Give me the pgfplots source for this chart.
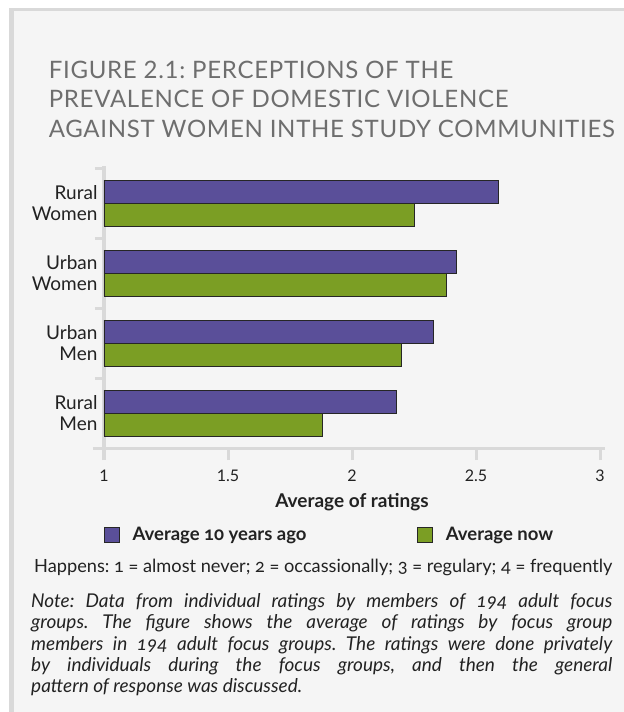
\documentclass[border=0pt]{standalone}
\usepackage{pgfplots}
\pgfplotsset{compat=1.18}
\usepackage{fontspec}
\setmainfont{Lato}[Numbers=OldStyle]
\newfontfamily\lin{Lato}[Numbers=Lining]
\newfontfamily\titlefont{Lato}[Numbers=Lining, LetterSpace=3]
\definecolor{barpurple}{HTML}{5A4F99}
\definecolor{bargreen}{HTML}{7B9E24}
\definecolor{axgray}{HTML}{D9D9D9}
\definecolor{panel}{HTML}{F5F5F5}
\definecolor{titlegray}{HTML}{6E6E6E}
\definecolor{txt}{HTML}{222222}
\frenchspacing
\begin{document}
\begin{tikzpicture}
\fill[white] (0,0) rectangle (624bp,-712bp);
\useasboundingbox (0,0) rectangle (624bp,-712bp);
\fill[axgray] (9bp,-8bp) rectangle (624bp,-712bp);
\fill[panel] (14bp,-11bp) rectangle (624bp,-712bp);
\begin{scope}[every node/.style={anchor=base west, inner sep=0pt, text=titlegray, font=\titlefont\fontsize{24bp}{29bp}\selectfont}]
\node at (48.6bp,-78bp) {FIGURE 2.1: PERCEPTIONS OF THE};
\node at (48.6bp,-107.5bp) {PREVALENCE OF DOMESTIC VIOLENCE};
\node at (48.6bp,-137bp) {AGAINST WOMEN INTHE STUDY COMMUNITIES};
\end{scope}
\begin{axis}[
  at={(104bp,-448bp)}, anchor=south west,
  scale only axis, width=496bp, height=280bp,
  xmin=1, xmax=3, ymin=-0.5, ymax=3.5,
  xbar, bar width=23bp,
  axis lines*=left,
  axis line style={axgray, line width=3bp},
  x axis line style={shorten <=-11bp, shorten >=-5bp},
  y axis line style={shorten >=-2bp},
  tick align=outside, major tick length=12bp, minor tick length=9bp,
  tick style={axgray, line width=3bp},
  xtick={1,1.5,2,2.5,3},
  ytick={0,1,2,3},
  yticklabels={{Rural\\Men},{Urban\\Men},{Urban\\Women},{Rural\\Women}},
  minor ytick={-0.5,0.5,1.5,2.5,3.5},
  every major y tick/.style={draw=none},
  yticklabel style={align=right, xshift=9bp, font=\lin\fontsize{19bp}{21bp}\selectfont, text=txt},
  xticklabel style={yshift=-6bp, font=\lin\fontsize{16bp}{16bp}\selectfont, text=txt},
  /pgf/number format/assume math mode=true,
  xlabel={\textbf{Average of ratings}},
  xlabel style={yshift=-5bp, font=\fontsize{19bp}{19bp}\selectfont, text=txt},
  legend columns=2,
  legend style={at={(0,0)}, anchor=north west, yshift=-77bp, draw=none, fill=none, inner sep=0pt,
    font=\bfseries\fontsize{18.5bp}{18.5bp}\selectfont, text=txt,
    /tikz/every even column/.append style={column sep=109bp}},
  legend image code/.code={\draw[#1] (0bp,-7.5bp) rectangle (15bp,7.5bp); \path[draw=none, fill=none] (0bp,0bp) -- (26bp,0bp);},
]
\addplot[fill=barpurple, draw=black!85, line width=0.8bp, bar shift=11.5bp] coordinates {(2.18,0) (2.33,1) (2.42,2) (2.59,3)};
\addplot[fill=bargreen, draw=black!85, line width=0.8bp, bar shift=-11.5bp] coordinates {(1.88,0) (2.20,1) (2.38,2) (2.25,3)};
\legend{Average 10 years ago, Average now}
\end{axis}
\node[anchor=base west, inner sep=0pt, text=txt, font=\fontsize{18.2bp}{18.2bp}\selectfont] at (34bp,-572bp) {Happens: 1 = almost never; 2 = occassionally; 3 = regulary; 4 = frequently};
\node[anchor=north west, inner sep=0pt, text width=581bp, align=justify, text=txt, font=\itshape\fontsize{19bp}{21.4bp}\selectfont] at (31bp,-593bp) {Note: Data from individual ratings by members of 194 adult focus\linebreak groups. The figure shows the average of ratings by focus group\linebreak members in 194 adult focus groups. The ratings were done privately\linebreak by individuals during the focus groups, and then the general\linebreak pattern of response was discussed.};
\end{tikzpicture}
\end{document}
